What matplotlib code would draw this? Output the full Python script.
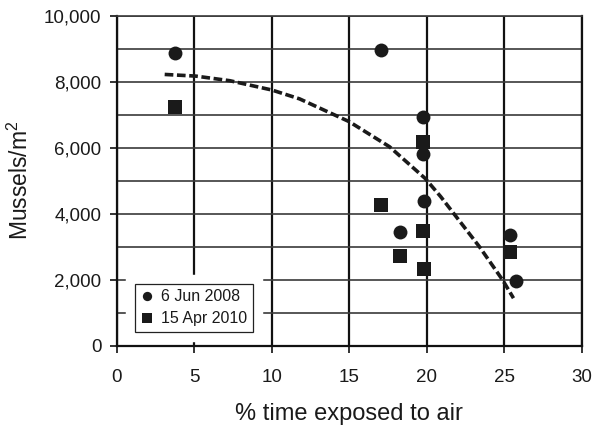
import matplotlib
matplotlib.use("Agg")
import matplotlib.pyplot as plt
import matplotlib.patheffects as pe
from matplotlib.ticker import FuncFormatter, MultipleLocator

plt.rcParams['font.family'] = ['Liberation Sans', 'DejaVu Sans']
plt.rcParams['mathtext.fontset'] = 'custom'
plt.rcParams['mathtext.rm'] = 'Liberation Sans'
plt.rcParams['mathtext.it'] = 'Liberation Sans'

# Data
jun2008_x = [3.76, 17.05, 19.74, 19.78, 19.83, 18.28, 25.37, 25.76]
jun2008_y = [8880, 8960, 6940, 5810, 4385, 3455, 3355, 1970]
apr2010_x = [3.76, 17.05, 19.74, 19.78, 19.83, 18.28, 25.37]
apr2010_y = [7240, 4264, 6180, 3475, 2315, 2727, 2830]
fit_x = [3.1, 5.1, 7.3, 10.0, 11.8, 15.0, 17.6, 19.9, 20.9, 23.4, 24.9, 25.6]
fit_y = [8220, 8170, 8030, 7750, 7480, 6790, 6030, 5070, 4520, 3000, 1990, 1440]
labels = ['6 Jun 2008', '15 Apr 2010']
x_ticks = [0, 5, 10, 15, 20, 25, 30]
y_ticks = [0, 2000, 4000, 6000, 8000, 10000]

fig = plt.figure(figsize=(5.92, 4.36), dpi=100)
ax = fig.add_axes([0.197, 0.2071, 0.7856, 0.7569])

ax.set_xlim(0, 30)
ax.set_ylim(0, 10000)

# grid
ax.yaxis.set_minor_locator(MultipleLocator(1000))
ax.grid(axis='y', which='both', color='#3a3a3a', linewidth=1.2, zorder=0)
ax.grid(axis='x', which='major', color='#111111', linewidth=1.6, zorder=0)
ax.set_axisbelow(True)

for s in ['left', 'bottom', 'right']:
    ax.spines[s].set_color('#111111')
    ax.spines[s].set_linewidth(1.6)
ax.spines['top'].set_color('#3a3a3a')
ax.spines['top'].set_linewidth(1.2)

ax.plot(fit_x, fit_y, color='#1a1a1a', linewidth=2.6, dashes=(2.4, 1.0),
        zorder=2, label='_nolegend_')
ax.plot(jun2008_x, jun2008_y, 'o', color='#1a1a1a', markersize=10,
        markeredgewidth=0, linestyle='none', label=labels[0], zorder=3)
ax.plot(apr2010_x, apr2010_y, 's', color='#1a1a1a', markersize=10,
        markeredgewidth=0, linestyle='none', label=labels[1], zorder=3)

ax.set_xticks(x_ticks)
ax.set_yticks(y_ticks)
ax.yaxis.set_major_formatter(FuncFormatter(lambda v, p: f"{int(v):,}"))
ax.tick_params(axis='both', which='major', direction='out', length=5,
               width=1.2, color='#111111', labelsize=13.5, labelcolor='#1a1a1a')
ax.tick_params(axis='y', which='minor', length=0)
ax.tick_params(axis='y', pad=6)
ax.tick_params(axis='x', pad=12)

ax.set_xlabel('% time exposed to air', fontsize=17, color='#1a1a1a', labelpad=12)
ax.set_ylabel('Mussels/m$^2$', fontsize=16.5, color='#1a1a1a', labelpad=8)

leg = ax.legend(loc='lower left', bbox_to_anchor=(0.039, 0.0415),
                borderaxespad=0, fancybox=False, framealpha=1,
                edgecolor='#222222', fontsize=11.5, markerscale=0.67,
                handlelength=0.8, handletextpad=0.5, borderpad=0.35,
                labelspacing=0.45)
leg.get_frame().set_linewidth(0.9)
leg.get_frame().set_path_effects([pe.withStroke(linewidth=14, foreground='white')])
for t in leg.get_texts():
    t.set_color('#1a1a1a')

fig.savefig('out.png', dpi=100)
